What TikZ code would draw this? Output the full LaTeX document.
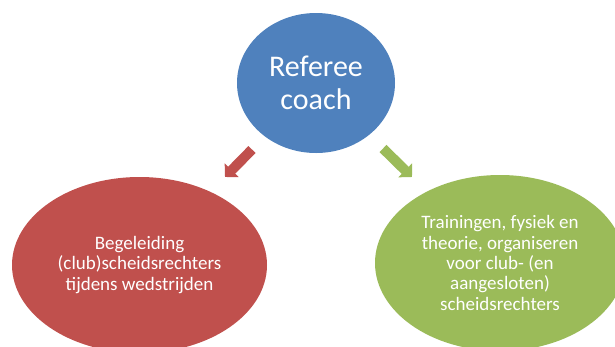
\documentclass[tikz,border=0pt]{standalone}
\usepackage{fontspec}
\setmainfont{Carlito}
\usetikzlibrary{arrows.meta,shapes.geometric}
\definecolor{cblue}{HTML}{4F81BD}
\definecolor{cred}{HTML}{C0504D}
\definecolor{cgreen}{HTML}{9BBB59}
\tikzset{
  blob/.style={ellipse, inner sep=0pt, text=white, align=center},
  bigtxt/.style={font=\fontsize{30}{33}\selectfont},
  smalltxt/.style={font=\fontsize{19}{20.3}\selectfont},
  blockarrow/.style={line width=10pt, -{Triangle[length=9.5pt,width=19pt]}}
}
\begin{document}
\begin{tikzpicture}[x=1pt,y=-1pt]
\useasboundingbox (0,0) rectangle (615,346);
\clip (0,0) rectangle (615,346);
\node[blob, bigtxt, fill=cblue, minimum width=158pt, minimum height=140pt] (coach) at (316,83) {Referee\\coach};
\node[blob, smalltxt, fill=cred, minimum width=255pt, minimum height=176pt] (left) at (139.5,265) {Begeleiding\\(club)scheidsrechters\\tijdens wedstrijden};
\node[blob, smalltxt, fill=cgreen, minimum width=250pt, minimum height=176pt] (right) at (500,263) {Trainingen, fysiek en\\theorie, organiseren\\voor club- (en\\aangesloten)\\scheidsrechters};
\coordinate (rs) at (252,149.5);
\coordinate (re) at (225,177);
\coordinate (gs) at (383,148.5);
\coordinate (ge) at (412,177);
\draw[blockarrow, cred] (rs) -- (re);
\draw[blockarrow, cgreen] (gs) -- (ge);
\end{tikzpicture}
\end{document}
